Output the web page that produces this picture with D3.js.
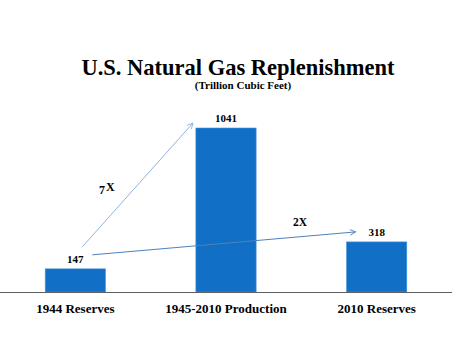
<!DOCTYPE html>
<html><head><meta charset="utf-8">
<script src="https://cdn.jsdelivr.net/npm/d3@7"></script>
<style>body{margin:0;background:#fff}svg{display:block}text{font-family:"Liberation Serif","Times New Roman",serif;font-weight:bold;fill:#000}</style>
</head><body><div id="c"></div>
<script>
const categories = ["1944 Reserves", "1945-2010 Production", "2010 Reserves"];
const values = [147, 1041, 318];
const valueLabels = ["147", "1041", "318"];
const arrowLabels = ["7X", "2X"];

const W = 474, H = 359;
const svg = d3.select("#c").append("svg").attr("width", W).attr("height", H);
const baseY = 292, topY = 128;
const x = d3.scaleBand().domain(categories).range([0, 452]).paddingInner(0.6).paddingOuter(0.3);
const y = d3.scaleLinear().domain([0, 1041]).range([baseY, topY]);

svg.append("text").attr("x", 238).attr("y", 75).attr("text-anchor", "middle")
  .style("font-size", "22.5px").text("U.S. Natural Gas Replenishment");
svg.append("text").attr("x", 243).attr("y", 89).attr("text-anchor", "middle")
  .style("font-size", "11px").text("(Trillion Cubic Feet)");

svg.selectAll("rect.bar").data(values).join("rect").attr("class", "bar")
  .attr("x", (d, i) => x(categories[i])).attr("width", x.bandwidth())
  .attr("y", d => y(d)).attr("height", d => baseY - y(d))
  .attr("fill", "#1170c6").attr("stroke", "#4a95d8").attr("stroke-width", 0.6);

svg.append("line").attr("x1", 0).attr("x2", 452).attr("y1", baseY + 0.5).attr("y2", baseY + 0.5)
  .attr("stroke", "#5f5f5f").attr("stroke-width", 1.2);

svg.selectAll("text.val").data(values).join("text").attr("class", "val")
  .attr("x", (d, i) => x(categories[i]) + x.bandwidth() / 2)
  .attr("y", d => y(d) - 6).attr("text-anchor", "middle")
  .style("font-size", "11px").text((d, i) => valueLabels[i]);

const ax = svg.append("g").attr("transform", `translate(0,${baseY})`).call(d3.axisBottom(x).tickSize(0).tickPadding(12));
ax.select(".domain").remove();
ax.selectAll("text").style("font-size", "13px").style("font-family", '"Liberation Serif",serif').style("font-weight", "bold").attr("fill", "#000");

const defs = svg.append("defs");
function marker(id, col) {
  defs.append("marker").attr("id", id).attr("viewBox", "0 0 10 10").attr("refX", 9).attr("refY", 5)
    .attr("markerWidth", 7).attr("markerHeight", 7).attr("orient", "auto")
    .append("path").attr("d", "M1,1L9,5L1,9").attr("fill", "none").attr("stroke", col).attr("stroke-width", 1.3);
}
marker("m1", "#8fb4e0"); marker("m2", "#4f81bd");

const c0 = x(categories[0]) + x.bandwidth() / 2;
const c1 = x(categories[1]) + x.bandwidth() / 2;
const c2 = x(categories[2]) + x.bandwidth() / 2;
svg.append("line").attr("x1", c0 + 7).attr("y1", y(values[0]) - 22).attr("x2", c1 - 33).attr("y2", y(values[1]) - 5)
  .attr("stroke", "#8fb4e0").attr("stroke-width", 1).attr("marker-end", "url(#m1)");
svg.append("line").attr("x1", c0 + 17).attr("y1", y(values[0]) - 14).attr("x2", c2 - 21).attr("y2", y(values[2]) - 10)
  .attr("stroke", "#4f81bd").attr("stroke-width", 1).attr("marker-end", "url(#m2)");

const l1 = svg.append("text").attr("x", 99).attr("y", 194).style("font-size", "12px");
l1.append("tspan").text(arrowLabels[0][0]);
l1.append("tspan").attr("dy", -3).attr("dx", 1).text(arrowLabels[0].slice(1));
svg.append("text").attr("x", 293).attr("y", 226).style("font-size", "11.5px").text(arrowLabels[1]);
</script></body></html>
